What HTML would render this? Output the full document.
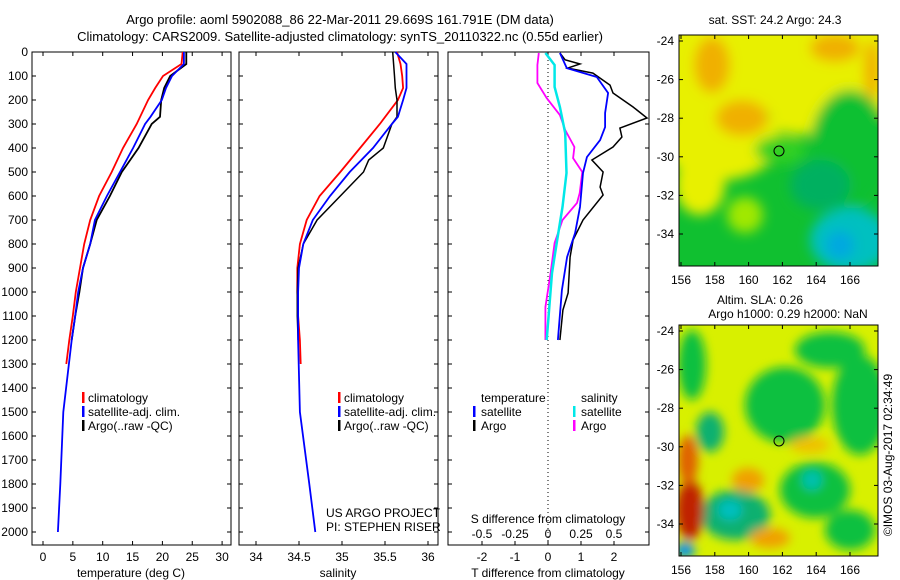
<!DOCTYPE html>
<html><head><meta charset="utf-8"><style>
html,body{margin:0;padding:0;background:#fff;}
svg{display:block;font-family:"Liberation Sans",sans-serif;}
text{font-size:12px;fill:#000;}
</style></head><body>
<svg id="chart" width="900" height="580" viewBox="0 0 900 580" xmlns="http://www.w3.org/2000/svg">
<defs>
<filter id="blur1" x="-50%" y="-50%" width="200%" height="200%"><feGaussianBlur stdDeviation="6"/></filter>
<filter id="blur2" x="-50%" y="-50%" width="200%" height="200%"><feGaussianBlur stdDeviation="5"/></filter>
<clipPath id="m1clip"><rect x="679" y="35" width="199" height="231"/></clipPath>
<clipPath id="m2clip"><rect x="679" y="325" width="199" height="231"/></clipPath>
</defs>
<text x="340" y="24" text-anchor="middle" style="font-size:13px">Argo profile: aoml 5902088_86 22-Mar-2011 29.669S 161.791E (DM data)</text>
<text x="340" y="41" text-anchor="middle" style="font-size:13px">Climatology: CARS2009. Satellite-adjusted climatology: synTS_20110322.nc (0.55d earlier)</text>
<g id="panels"></g>
<g id="maps">
<g clip-path="url(#m1clip)">
<rect x="679" y="35" width="199" height="231" fill="#10c030"/>
<g filter="url(#blur1)">
<rect x="660" y="20" width="240" height="95" fill="#e8f000"/>
<ellipse cx="720" cy="140" rx="60" ry="40" fill="#e8f000"/>
<ellipse cx="700" cy="185" rx="25" ry="30" fill="#e8f000"/>
<ellipse cx="800" cy="120" rx="30" ry="15" fill="#e8f000"/>
<ellipse cx="712" cy="65" rx="18" ry="28" fill="#f0b000"/>
<ellipse cx="835" cy="48" rx="25" ry="14" fill="#f0b000"/>
<ellipse cx="742" cy="118" rx="26" ry="18" fill="#f0b000"/>
<ellipse cx="872" cy="70" rx="8" ry="30" fill="#f0b000"/>
<ellipse cx="850" cy="150" rx="40" ry="60" fill="#10c030"/>
<ellipse cx="780" cy="150" rx="25" ry="14" fill="#30d020"/>
<ellipse cx="745" cy="215" rx="18" ry="18" fill="#a0e800"/>
<ellipse cx="850" cy="240" rx="40" ry="32" fill="#00c0c0"/>
<ellipse cx="840" cy="245" rx="14" ry="14" fill="#00a8e0"/>
<ellipse cx="820" cy="185" rx="30" ry="25" fill="#00b060"/>
</g>
</g>
<rect x="679" y="35" width="199" height="231" fill="none" stroke="#000"/>
<circle cx="779" cy="151" r="5" fill="none" stroke="#000"/>
<text x="775" y="24" text-anchor="middle">sat. SST: 24.2 Argo: 24.3</text>
<g clip-path="url(#m2clip)">
<rect x="679" y="325" width="199" height="231" fill="#d8f000"/>
<g filter="url(#blur2)">
<ellipse cx="692" cy="365" rx="14" ry="35" fill="#10c040"/>
<ellipse cx="785" cy="405" rx="40" ry="38" fill="#10c040"/>
<ellipse cx="860" cy="405" rx="28" ry="50" fill="#10c040"/>
<ellipse cx="830" cy="350" rx="35" ry="18" fill="#10c040"/>
<ellipse cx="710" cy="432" rx="14" ry="20" fill="#10b070"/>
<ellipse cx="815" cy="490" rx="35" ry="28" fill="#10c040"/>
<ellipse cx="812" cy="480" rx="10" ry="10" fill="#00c0b0"/>
<ellipse cx="735" cy="515" rx="35" ry="25" fill="#10b070"/>
<ellipse cx="730" cy="510" rx="12" ry="10" fill="#00c0c0"/>
<ellipse cx="850" cy="530" rx="25" ry="20" fill="#10c040"/>
<ellipse cx="690" cy="510" rx="14" ry="30" fill="#c02000"/>
<ellipse cx="688" cy="460" rx="10" ry="25" fill="#e06000"/>
<ellipse cx="748" cy="480" rx="16" ry="12" fill="#f0a000"/>
<ellipse cx="770" cy="538" rx="20" ry="10" fill="#f0a000"/>
<ellipse cx="810" cy="445" rx="20" ry="8" fill="#f0c000"/>
<ellipse cx="685" cy="550" rx="10" ry="8" fill="#0090f0"/>
</g>
</g>
<rect x="679" y="325" width="199" height="231" fill="none" stroke="#000"/>
<circle cx="779" cy="441" r="5" fill="none" stroke="#000"/>
<text x="760" y="304" text-anchor="middle">Altim. SLA: 0.26</text>
<text x="788" y="318" text-anchor="middle">Argo h1000: 0.29 h2000: NaN</text>
<text transform="translate(892,455) rotate(-90)" text-anchor="middle">©IMOS 03-Aug-2017 02:34:49</text>
</g>
<g id="mapaxes"></g>
</svg>
<script>
// ---- data ----
const depthTicks=[0,100,200,300,400,500,600,700,800,900,1000,1100,1200,1300,1400,1500,1600,1700,1800,1900,2000];
const tempTicks=[0,5,10,15,20,25,30];
const salTicks=[34,34.5,35,35.5,36];
const salTickLabels=["34","34.5","35","35.5","36"];
const tdiffTicks=[-2,-1,0,1,2];
const sdiffTicks=[-0.5,-0.25,0,0.25,0.5];
const sdiffTickLabels=["-0.5","-0.25","0","0.25","0.5"];
const climDepth=[0,50,100,150,200,300,400,500,600,700,800,900,1000,1100,1200,1300];
const climTemp=[23.4,23.2,20.1,18.8,17.6,15.7,13.4,11.5,9.4,7.9,6.9,6.2,5.5,5.0,4.4,3.9];
const climSal=[35.64,35.68,35.70,35.71,35.65,35.44,35.21,34.98,34.74,34.59,34.51,34.48,34.48,34.49,34.51,34.52];
const satDepth=[0,50,100,150,200,270,300,400,500,600,700,800,900,1000,1100,1200,1500,1800,2000];
const satTemp=[23.6,23.6,21.6,20.6,19.9,18.0,17.1,15.1,12.9,10.7,8.7,7.9,6.7,5.9,5.4,4.8,3.4,2.9,2.5];
const satSal=[35.62,35.75,35.75,35.75,35.71,35.65,35.58,35.36,35.09,34.86,34.66,34.55,34.50,34.49,34.49,34.49,34.51,34.62,34.69];
const argoDepth=[0,50,100,150,200,270,300,400,450,500,600,700,800,900,1000,1100,1200];
const argoTemp=[24.0,24.0,21.3,20.3,19.8,19.6,18.2,16.0,14.6,13.2,11.2,9.0,7.9,6.7,6.1,5.4,4.8];
const argoSal=[35.59,35.60,35.61,35.62,35.64,35.64,35.58,35.48,35.31,35.25,34.98,34.71,34.55,34.49,34.48,34.48,34.49];
const dArgoTDepth=[4,33,50,67,88,138,171,229,275,317,354,396,450,500,563,596,700,783,854,1004,1075,1200];
const dArgoT=[0.36,0.52,0.97,0.6,1.36,1.88,1.97,2.58,3.0,2.18,2.24,1.97,1.33,1.67,1.58,1.67,1.06,0.76,0.67,0.61,0.45,0.36];
const dSatTDepth=[4,67,104,171,254,313,367,438,504,646,754,854,992,1200];
const dSatT=[0.36,0.57,1.48,1.82,1.73,1.73,1.58,1.18,1.06,0.97,0.82,0.58,0.42,0.3];
const dArgoSDepth=[4,54,129,192,263,325,396,442,500,588,629,700,796,921,1063,1200];
const dArgoS=[-0.07,-0.08,-0.08,-0.01,0.09,0.13,0.2,0.19,0.26,0.24,0.22,0.11,0.05,0.02,-0.02,-0.02];
const dSatSDepth=[4,54,146,229,338,504,646,783,921,1200];
const dSatS=[-0.02,0.05,0.05,0.09,0.13,0.14,0.11,0.07,0.03,-0.01];
const latTicks=[-24,-26,-28,-30,-32,-34];
const lonTicks=[156,158,160,162,164,166];

// ---- axes ----
const NS="http://www.w3.org/2000/svg";
const yD=d=>52+d*0.24;
const xT=t=>43+t*5.97;
const xS=s=>256+(s-34)*86;
const xDT=t=>548+t*33;
const xDS=s=>548+s*132;
const BOT=545;
function mk(tag,attrs,parent){const e=document.createElementNS(NS,tag);for(const k in attrs)e.setAttribute(k,attrs[k]);parent.appendChild(e);return e;}
const P=document.getElementById('panels');
function frame(x0,x1,name){
  const r=mk('rect',{x:x0,y:52,width:x1-x0,height:BOT-52,fill:'none',stroke:'#000'},P);
  
  
}
function line(xs,ds,fx,color,w,name){
  const pts=xs.map((v,i)=>fx(v).toFixed(1)+','+yD(ds[i]).toFixed(1)).join(' ');
  const e=mk('polyline',{points:pts,fill:'none',stroke:color,'stroke-width':w},P);
  
  
}
function txt(x,y,s,anchor,name,size){
  const e=mk('text',{x:x,y:y,'text-anchor':anchor||'start'},P);
  if(size)e.setAttribute('style','font-size:'+size+'px');
  e.textContent=s;
  
  
  return e;
}
function tick(x1,y1,x2,y2){mk('line',{x1:x1,y1:y1,x2:x2,y2:y2,stroke:'#000'},P);}
function legbar(x,y,color,name){
  const e=mk('rect',{x:x,y:y-10,width:2.5,height:11,fill:color},P);
  
  
}

frame(32,231,'temperature-panel');
frame(239,438,'salinity-panel');
frame(448,649,'difference-panel');
depthTicks.forEach(d=>{
  txt(28,yD(d)+4,String(d),'end','depth-tick-label');
  [32,239,448].forEach(x=>tick(x,yD(d),x+4,yD(d)));
  [231,438,649].forEach(x=>tick(x-4,yD(d),x,yD(d)));
});
tempTicks.forEach(t=>{tick(xT(t),BOT,xT(t),BOT-4);tick(xT(t),52,xT(t),56);txt(xT(t),561,String(t),'middle','temperature-tick-label');});
txt(131,577,'temperature (deg C)','middle','temperature-axis-title');
salTicks.forEach((s,i)=>{tick(xS(s),BOT,xS(s),BOT-4);tick(xS(s),52,xS(s),56);txt(xS(s),561,salTickLabels[i],'middle','salinity-tick-label');});
txt(338,577,'salinity','middle','salinity-axis-title');
tdiffTicks.forEach(t=>{tick(xDT(t),BOT,xDT(t),BOT-4);tick(xDT(t),52,xDT(t),56);txt(xDT(t),561,String(t),'middle','tdiff-tick-label');});
sdiffTicks.forEach((s,i)=>{txt(xDS(s),538,sdiffTickLabels[i],'middle','sdiff-tick-label');});
txt(548,523,'S difference from climatology','middle','sdiff-axis-title');
txt(548,577,'T difference from climatology','middle','tdiff-axis-title');
const zl=mk('line',{x1:548,y1:52,x2:548,y2:BOT,stroke:'#000','stroke-dasharray':'1,3'},P);



// series
line(climTemp,climDepth,xT,'#ff0000',1.8,'temperature-climatology-line');
line(argoTemp,argoDepth,xT,'#000',1.8,'temperature-argo-line');
line(satTemp,satDepth,xT,'#0000ff',1.8,'temperature-satellite-line');
line(climSal,climDepth,xS,'#ff0000',1.8,'salinity-climatology-line');
line(argoSal,argoDepth,xS,'#000',1.5,'salinity-argo-line');
line(satSal,satDepth,xS,'#0000ff',1.8,'salinity-satellite-line');
line(dArgoS,dArgoSDepth,xDS,'#ff00ff',1.8,'sdiff-argo-line');
line(dSatS,dSatSDepth,xDS,'#00e8e8',2.5,'sdiff-satellite-line');
line(dArgoT,dArgoTDepth,xDT,'#000',1.5,'tdiff-argo-line');
line(dSatT,dSatTDepth,xDT,'#0000ff',1.8,'tdiff-satellite-line');

// legends
[['climatology','#ff0000'],['satellite-adj. clim.','#0000ff'],['Argo(..raw -QC)','#000']].forEach((l,i)=>{
  const y=402+i*14;
  legbar(82,y,l[1],'temp-legend-swatch');
  txt(88,y,l[0],'start','temp-legend-entry');
  legbar(338,y,l[1],'sal-legend-swatch');
  txt(344,y,l[0],'start','sal-legend-entry');
});
txt(481,402,'temperature','start','diff-legend-temperature-header');
txt(581,402,'salinity','start','diff-legend-salinity-header');
[['satellite','#0000ff','#00e8e8'],['Argo','#000','#ff00ff']].forEach((l,i)=>{
  const y=416+i*14;
  legbar(473,y,l[1],'diff-legend-temp-swatch');
  txt(481,y,l[0],'start','diff-legend-temp-entry');
  legbar(573,y,l[2],'diff-legend-sal-swatch');
  txt(581,y,l[0],'start','diff-legend-sal-entry');
});
txt(326,517,'US ARGO PROJECT','start','project-label');
txt(326,531,'PI: STEPHEN RISER','start','pi-label');

// map axes
const M=document.getElementById('mapaxes');
const xLon=l=>681+(l-156)*16.9;
function yLat(l,top){return top+6+(-24-l)*19.3;}
[35,325].forEach((top,mi)=>{
  latTicks.forEach(l=>{
    const y=yLat(l,top);
    mk('line',{x1:679,y1:y,x2:683,y2:y,stroke:'#000'},M);
    mk('line',{x1:874,y1:y,x2:878,y2:y,stroke:'#000'},M);
    const t=mk('text',{x:674,y:y+4,'text-anchor':'end'},M);
    t.textContent=String(l);
    
    
  });
  lonTicks.forEach(l=>{
    const x=xLon(l);
    mk('line',{x1:x,y1:top+231,x2:x,y2:top+227,stroke:'#000'},M);
    mk('line',{x1:x,y1:top,x2:x,y2:top+4,stroke:'#000'},M);
    const t=mk('text',{x:x,y:top+249,'text-anchor':'middle'},M);
    t.textContent=String(l);
    
    
  });
});
</script>
</body></html>
